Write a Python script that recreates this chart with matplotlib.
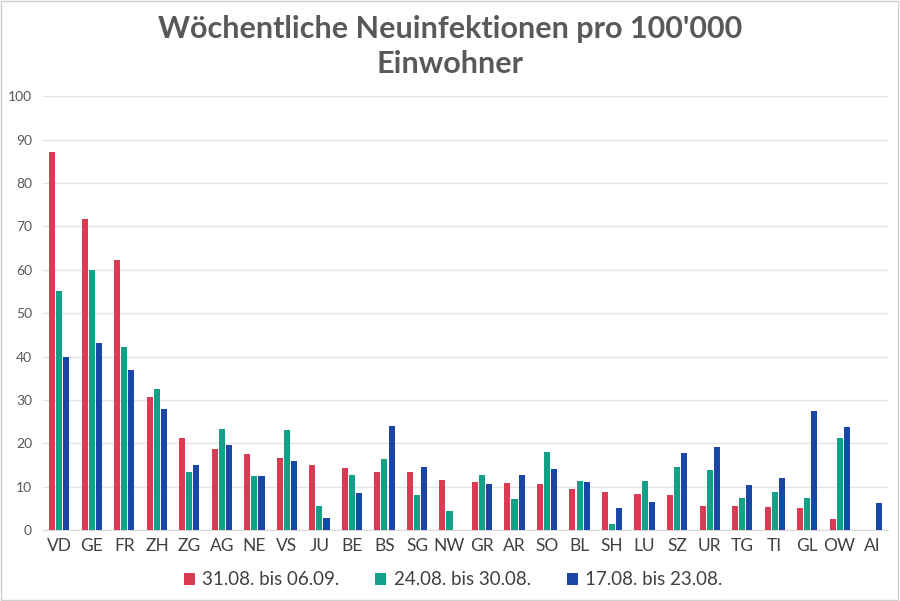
import numpy as np
import matplotlib.pyplot as plt
from matplotlib.patches import Rectangle

cantons = ['VD', 'GE', 'FR', 'ZH', 'ZG', 'AG', 'NE', 'VS', 'JU', 'BE', 'BS', 'SG', 'NW',
           'GR', 'AR', 'SO', 'BL', 'SH', 'LU', 'SZ', 'UR', 'TG', 'TI', 'GL', 'OW', 'AI']
week_3 = [87.2, 71.8, 62.3, 30.6, 21.3, 18.8, 17.5, 16.6, 15.0, 14.2, 13.4, 13.3, 11.6,
          11.0, 10.9, 10.6, 9.4, 8.7, 8.3, 8.2, 5.6, 5.6, 5.4, 5.0, 2.6, 0.0]
week_2 = [55.0, 60.0, 42.2, 32.6, 13.5, 23.4, 12.5, 23.0, 5.5, 12.6, 16.4, 8.0, 4.5,
          12.7, 7.1, 18.1, 11.4, 1.3, 11.2, 14.6, 13.8, 7.5, 8.8, 7.4, 21.2, 0.0]
week_1 = [39.8, 43.0, 37.0, 28.0, 14.9, 19.7, 12.5, 16.0, 2.7, 8.6, 24.1, 14.5, 0.0,
          10.6, 12.7, 14.0, 11.1, 5.0, 6.5, 17.7, 19.2, 10.5, 12.0, 27.4, 23.8, 6.3]
labels = ['31.08. bis 06.09.', '24.08. bis 30.08.', '17.08. bis 23.08.']
colors = ['#dc3a52', '#13a088', '#1a47a6']

plt.rcParams['font.family'] = ['Lato', 'DejaVu Sans']

fig = plt.figure(figsize=(9, 6.01), dpi=100)
ax = fig.add_axes([0.048, 0.118, 0.939, 0.722])

x = np.arange(len(cantons))
step = 0.216
width = 0.185
for i, (vals, lab, col) in enumerate(zip([week_3, week_2, week_1], labels, colors)):
    ax.bar(x + (i - 1) * step, vals, width=width, color=col, label=lab, zorder=3)

ax.set_xlim(-0.5, len(cantons) - 0.5)
ax.set_ylim(0, 100)
ax.set_yticks(np.arange(0, 101, 10))
ax.set_xticks(x)
ax.set_xticklabels(cantons)
ax.yaxis.grid(True, color='#e3e3e3', linewidth=1, zorder=0)
for s in ['top', 'right', 'left']:
    ax.spines[s].set_visible(False)
ax.spines['bottom'].set_color('#d9d9d9')
ax.tick_params(axis='both', length=0)
ax.tick_params(axis='y', labelsize=10, colors='#595959', pad=8)
ax.tick_params(axis='x', labelsize=12.5, colors='#404040', pad=6)

fig.text(0.5, 0.922, "Wöchentliche Neuinfektionen pro 100'000\nEinwohner", ha='center', va='center',
         fontsize=22, fontweight='bold', color='#595959', linespacing=1.3)

ax.legend(loc='center', bbox_to_anchor=(0.485, -0.115), ncol=3, frameon=False,
          handlelength=0.6, handleheight=0.6, handletextpad=0.4, columnspacing=1.9,
          labelcolor='#404040', prop={'size': 13.5})

fig.patches.append(Rectangle((0.001, 0.002), 0.997, 0.997, transform=fig.transFigure,
                             fill=False, edgecolor='#d0d0d0', linewidth=1))

fig.savefig('out.png', dpi=100)
